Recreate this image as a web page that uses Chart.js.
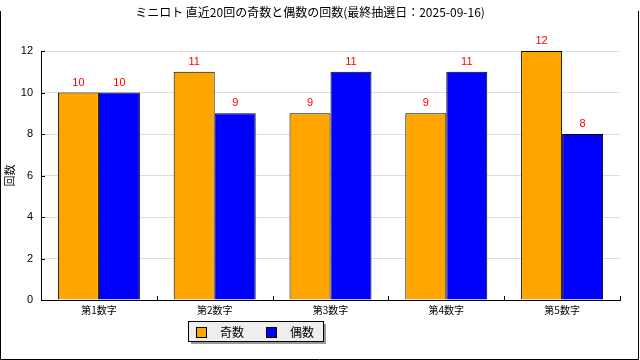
<!DOCTYPE html>
<html>
<head>
<meta charset="utf-8">
<script src="https://cdn.jsdelivr.net/npm/chart.js@4/dist/chart.umd.min.js"></script>
<style>
html,body{margin:0;padding:0;background:#fff;}
#wrap{width:640px;height:360px;position:relative;}
</style>
</head>
<body>
<div id="wrap"><canvas id="c" width="640" height="360"></canvas></div>
<script>
const titleText = 'ミニロト 直近20回の奇数と偶数の回数(最終抽選日：2025-09-16)';
const yAxisTitle = '回数';
const categories = ['第1数字', '第2数字', '第3数字', '第4数字', '第5数字'];
const seriesNames = ['奇数', '偶数'];
const oddCounts = [10, 11, 9, 9, 12];
const evenCounts = [10, 9, 11, 11, 8];
const seriesColors = ['#FFA500', '#0000FF'];
const yTicks = [0, 2, 4, 6, 8, 10, 12];

const CJK = '"Noto Sans CJK JP", "Noto Sans", sans-serif';
const NUM = '"Liberation Sans", Arial, sans-serif';

const decor = {
  id: 'decor',
  beforeDraw(chart) {
    const ctx = chart.ctx;
    ctx.save();
    ctx.fillStyle = '#fff';
    ctx.fillRect(0, 0, chart.width, chart.height);
    ctx.strokeStyle = '#000';
    ctx.lineWidth = 1;
    ctx.beginPath();
    ctx.moveTo(0.5, 11);
    ctx.lineTo(0.5, 359.5);
    ctx.lineTo(638.5, 359.5);
    ctx.lineTo(638.5, 11);
    ctx.stroke();
    ctx.restore();
  },
  afterDatasetsDraw(chart) {
    const ctx = chart.ctx;
    const area = chart.chartArea;
    const xs = chart.scales.x, ys = chart.scales.y;
    ctx.save();
    ctx.strokeStyle = '#000';
    ctx.lineWidth = 1;
    ctx.beginPath();
    yTicks.forEach(v => {
      const y = Math.round(ys.getPixelForValue(v)) + 0.5;
      ctx.moveTo(area.left, y);
      ctx.lineTo(area.left + 4, y);
    });
    const n = categories.length;
    for (let i = 1; i <= n; i++) {
      const x = Math.round(xs.getPixelForValue(i - 0.5)) + 0.5;
      ctx.moveTo(x, area.bottom);
      ctx.lineTo(x, area.bottom - 4);
    }
    ctx.stroke();
    ctx.fillStyle = '#FF0000';
    ctx.font = '11px ' + NUM;
    ctx.textAlign = 'center';
    ctx.textBaseline = 'middle';
    chart.data.datasets.forEach((ds, di) => {
      const meta = chart.getDatasetMeta(di);
      meta.data.forEach((bar, i) => {
        ctx.fillText(String(ds.data[i]), bar.x, bar.y - 10);
      });
    });
    ctx.restore();
  },
  afterDraw(chart) {
    const ctx = chart.ctx;
    ctx.save();
    const bx = 188, by = 321, bw = 135, bh = 20;
    ctx.fillStyle = '#999';
    ctx.fillRect(bx + 3, by + 3, bw, bh);
    ctx.fillStyle = '#eeeeee';
    ctx.fillRect(bx, by, bw, bh);
    ctx.strokeStyle = '#000';
    ctx.lineWidth = 1;
    ctx.strokeRect(bx + 0.5, by + 0.5, bw, bh);
    ctx.font = '12px ' + CJK;
    ctx.textBaseline = 'middle';
    ctx.textAlign = 'left';
    let x = 196;
    const cy = 332;
    chart.data.datasets.forEach((ds, di) => {
      ctx.fillStyle = ds.backgroundColor;
      ctx.fillRect(x, cy - 5, 10, 10);
      ctx.strokeStyle = '#000';
      ctx.strokeRect(x + 0.5, cy - 4.5, 10, 10);
      ctx.fillStyle = '#000';
      ctx.fillText(ds.label, x + 24, cy);
      x = x + 24 + ctx.measureText(ds.label).width + 22;
    });
    ctx.restore();
  }
};

new Chart(document.getElementById('c'), {
  type: 'bar',
  data: {
    labels: categories,
    datasets: [
      { label: seriesNames[0], data: oddCounts, backgroundColor: seriesColors[0], borderColor: '#000', borderWidth: 1 },
      { label: seriesNames[1], data: evenCounts, backgroundColor: seriesColors[1], borderColor: '#000', borderWidth: 1 }
    ]
  },
  options: {
    responsive: false,
    animation: false,
    devicePixelRatio: 1,
    layout: { padding: { left: 0, right: 20, top: 0, bottom: 0 } },
    plugins: {
      legend: { display: false },
      tooltip: { enabled: false },
      title: {
        display: true,
        text: titleText,
        color: '#000',
        font: { family: CJK, size: 12, weight: 'normal' },
        padding: { top: 5, bottom: 31.6 }
      }
    },
    datasets: { bar: { categoryPercentage: 0.708, barPercentage: 1.0 } },
    scales: {
      x: {
        type: 'category',
        offset: true,
        grid: { display: false, drawTicks: false },
        border: { color: '#000', width: 1 },
        ticks: { color: '#000', font: { family: CJK, size: 10 }, padding: 4, maxRotation: 0 },
        afterFit(s) { s.height = 60; }
      },
      y: {
        min: 0, max: 12,
        afterBuildTicks(s) { s.ticks = yTicks.map(v => ({ value: v })); },
        grid: { color: '#dddddd', drawTicks: false },
        border: { color: '#000', width: 1 },
        ticks: { color: '#000', font: { family: NUM, size: 11 }, padding: 8 },
        title: { display: true, text: yAxisTitle, color: '#000', font: { family: CJK, size: 11 }, padding: { top: 3, bottom: 0 } },
        afterFit(s) { s.width = 41; }
      }
    }
  },
  plugins: [decor]
});
</script>
</body>
</html>
